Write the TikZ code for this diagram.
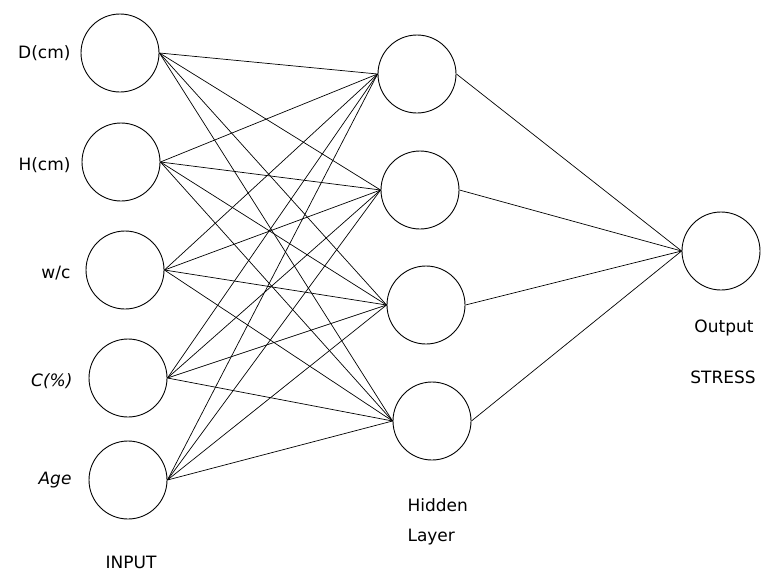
\documentclass[tikz,border=0pt]{standalone}
\usepackage{fontspec}
\setmainfont{DejaVu Sans}
\usetikzlibrary{positioning}

\begin{document}
\begin{tikzpicture}[
	x=1pt, y=-1pt,
	every node/.style={font=\fontsize{17}{20}\selectfont},
	neuron/.style={draw, circle, minimum size=78pt, inner sep=0pt, line width=0.9pt},
	inlabel/.style={anchor=east},
	link/.style={line width=0.7pt}
	]
	\useasboundingbox (0,0) rectangle (776,573);
	
	% input layer
	\node[neuron] (I1) at (120,53) {};
	\node[neuron] (I2) at (121,162) {};
	\node[neuron] (I3) at (125,270) {};
	\node[neuron] (I4) at (128,378) {};
	\node[neuron] (I5) at (128,480) {};
	
	\node[inlabel] (l1) at (74,53) {D(cm)};
	\node[inlabel] (l2) at (74,165) {H(cm)};
	\node[inlabel] (l3) at (74,273) {w/c};
	\node[inlabel] (l4) at (76,381) {\itshape C(\%)};
	\node[inlabel] (l5) at (75,480) {\itshape Age};
	\node (lin) at (131,562) {INPUT};
	
	% hidden layer
	\node[neuron] (H1) at (417,74) {};
	\node[neuron] (H2) at (420,190) {};
	\node[neuron] (H3) at (426,305) {};
	\node[neuron] (H4) at (432,421) {};
	
	\node[anchor=west] (lh1) at (404,505) {Hidden};
	\node[anchor=west] (lh2) at (404,537) {Layer};
	
	% output layer
	\node[neuron] (O) at (721,251) {};
	\node (lo1) at (724,328) {Output};
	\node (lo2) at (723,377) {STRESS};
	
	\foreach \i in {1,...,5}
	\foreach \j in {1,...,4}
	\draw[link] (I\i.east) -- (H\j.west);
	
	\foreach \j in {1,...,4}
	\draw[link] (H\j.east) -- (O.west);
	
\end{tikzpicture}
\end{document}
